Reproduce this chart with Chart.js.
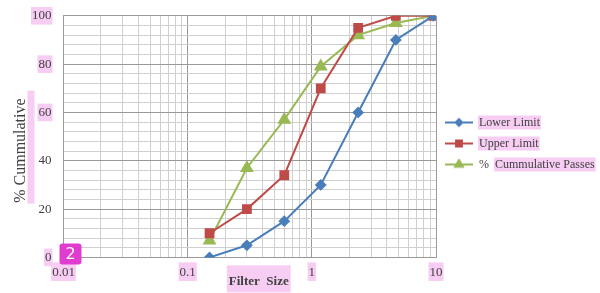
<!DOCTYPE html>
<html>
<head>
<meta charset="utf-8">
<script src="https://cdn.jsdelivr.net/npm/chart.js@4/dist/chart.umd.min.js"></script>
<style>
  html, body { margin: 0; padding: 0; background: #fff; }
  #wrap { width: 600px; height: 293px; }
</style>
</head>
<body>
<div id="wrap"><canvas id="chart" width="600" height="293"></canvas></div>
<script>
// ── Data ────────────────────────────────────────────────────
const filterSizes  = [0.15, 0.3, 0.6, 1.18, 2.36, 4.75, 9.5];
const lowerLimit   = [0, 5, 15, 30, 60, 90, 100];
const upperLimit   = [10, 20, 34, 70, 95, 100, 100];
const cumPasses    = [7, 37, 57, 79, 92, 97, 100];
const xDecades     = [0.01, 0.1, 1, 10];
const yTickLabels  = [0, 20, 40, 60, 80, 100];
const seriesNames  = ['Lower Limit', 'Upper Limit', '%  Cummulative Passes'];

// ── Look ─────────────────────────────────────────────────────
const SERIF   = "'Liberation Serif', 'Times New Roman', serif";
const TEXT    = '#404040';
const PINK    = '#f8cdf3';
const GRID_MAJOR = '#9a9a9a';
const GRID_MINOR = '#cfcfcf';
const COLORS  = ['#4a7ebb', '#be4b48', '#98b954'];
const STYLES  = ['rectRot', 'rect', 'triangle'];
const RADII   = [4.5, 5.5, 6];
const yPinked = [0, 60, 80, 100];   // tick labels that carry the pink highlight
const LEGEND_W = 160;

const isDecade = v => Math.abs(Math.log10(v) - Math.round(Math.log10(v))) < 1e-9;

// small line+marker icons for the legend
function legendIcon(i) {
    const c = document.createElement('canvas');
    c.width = 28; c.height = 12;
    const g = c.getContext('2d');
    g.strokeStyle = COLORS[i];
    g.fillStyle = COLORS[i];
    g.lineWidth = 2;
    g.beginPath(); g.moveTo(0, 6); g.lineTo(28, 6); g.stroke();
    Chart.helpers.drawPoint(g, { pointStyle: STYLES[i], radius: RADII[i] * 0.75, rotation: 0, borderWidth: 1 }, 14, 6);
    g.fill();
    return c;
}

const seriesData = [lowerLimit, upperLimit, cumPasses];
const datasets = seriesData.map((vals, i) => ({
    label: seriesNames[i],
    data: vals.map((y, k) => ({ x: filterSizes[k], y })),
    borderColor: COLORS[i],
    backgroundColor: COLORS[i],
    pointBackgroundColor: COLORS[i],
    pointBorderColor: COLORS[i],
    pointStyle: STYLES[i],
    pointRadius: RADII[i],
    borderWidth: 2,
    tension: 0
}));

// ── Titles, highlights and the little badge ──────────────────
const X_TITLE = 'Filter  Size';
const Y_TITLE = '% Cummulative';
const decor = {
    id: 'decor',
    // the layout caps a side legend at a quarter of the width; let it be wider
    beforeLayout(chart) {
        const lg = chart.legend;
        if (lg && !lg._wide) {
            const orig = lg.update.bind(lg);
            lg.update = (w, h, m) => orig(LEGEND_W, h, m);
            lg._wide = true;
        }
    },
    beforeDraw(chart) {
        const { ctx, chartArea: a, legend } = chart;
        const midX = (a.left + a.right) / 2, midY = (a.top + a.bottom) / 2;
        ctx.save();
        ctx.fillStyle = PINK;
        ctx.font = 'bold 13px ' + SERIF;
        const w = ctx.measureText(X_TITLE).width;
        ctx.fillRect(midX + 9 - w / 2 - 2, a.bottom + 8, w + 4, 27);
        ctx.fillRect(a.left - 36, midY + 10 - 56, 7, 113);

        ctx.font = '12px ' + SERIF;
        legend.legendHitBoxes.forEach((hb, i) => {
            const name = seriesNames[i];
            let tx = hb.left + 28 + 6;
            let txt = name;
            if (name.startsWith('%')) {
                tx += ctx.measureText('%  ').width;
                txt = name.slice(3);
            }
            ctx.fillRect(tx - 1, hb.top - 1, ctx.measureText(txt).width + 2, hb.height + 2);
        });
        ctx.restore();
    },
    afterDraw(chart) {
        const { ctx, chartArea: a } = chart;
        const midX = (a.left + a.right) / 2, midY = (a.top + a.bottom) / 2;
        ctx.save();
        ctx.fillStyle = TEXT;
        ctx.textAlign = 'center';
        ctx.textBaseline = 'middle';
        ctx.font = 'bold 13px ' + SERIF;
        ctx.fillText(X_TITLE, midX + 9, a.bottom + 24);

        ctx.translate(a.left - 43, midY + 14);
        ctx.rotate(-Math.PI / 2);
        ctx.font = '16px ' + SERIF;
        ctx.fillText(Y_TITLE, 0, 0);
        ctx.restore();

        // magenta "2" badge
        ctx.save();
        ctx.fillStyle = '#e03ccf';
        ctx.beginPath();
        ctx.roundRect(a.left - 4, a.bottom - 14, 22, 21, 3);
        ctx.fill();
        ctx.fillStyle = '#fff';
        ctx.font = "16px 'DejaVu Sans', sans-serif";
        ctx.textAlign = 'center';
        ctx.textBaseline = 'middle';
        ctx.fillText('2', a.left + 7, a.bottom - 3);
        ctx.restore();
    }
};

// ── Chart ────────────────────────────────────────────────────
new Chart(document.getElementById('chart'), {
    type: 'line',
    data: { datasets },
    plugins: [decor],
    options: {
        responsive: false,
        devicePixelRatio: 1,
        animation: false,
        layout: { padding: { left: 24, top: 0, bottom: 6, right: 4 } },
        plugins: {
            tooltip: { enabled: false },
            legend: {
                position: 'right',
                labels: {
                    color: TEXT,
                    font: { family: SERIF, size: 12 },
                    usePointStyle: true,
                    pointStyleWidth: 28,
                    padding: 9,
                    generateLabels: chart => {
                        const items = Chart.defaults.plugins.legend.labels.generateLabels(chart);
                        items.forEach((it, i) => { it.pointStyle = legendIcon(i); });
                        return items;
                    }
                }
            }
        },
        scales: {
            x: {
                type: 'logarithmic',
                min: xDecades[0],
                max: xDecades[xDecades.length - 1],
                afterBuildTicks: scale => {
                    const t = [];
                    xDecades.forEach((d, k) => {
                        const top = k === xDecades.length - 1 ? 1 : 9;
                        for (let m = 1; m <= top; m++) t.push({ value: m * d });
                    });
                    scale.ticks = t;
                },
                grid: {
                    drawTicks: false,
                    color: c => (c.tick && isDecade(c.tick.value)) ? GRID_MAJOR : GRID_MINOR
                },
                border: { color: GRID_MAJOR },
                ticks: {
                    autoSkip: false,
                    maxRotation: 0,
                    padding: 7,
                    color: TEXT,
                    font: { family: SERIF, size: 13 },
                    callback: v => isDecade(v) ? String(xDecades.find(d => Math.abs(d - v) < 1e-9)) : '',
                    showLabelBackdrop: c => c.tick && isDecade(c.tick.value),
                    backdropColor: PINK,
                    backdropPadding: { left: 1, right: 1, top: 2, bottom: 1 }
                }
            },
            y: {
                min: yTickLabels[0],
                max: yTickLabels[yTickLabels.length - 1],
                grid: {
                    drawTicks: true,
                    tickLength: 4,
                    tickColor: 'rgba(0,0,0,0)',
                    color: c => (c.tick && yTickLabels.includes(c.tick.value)) ? GRID_MAJOR : GRID_MINOR
                },
                border: { color: GRID_MAJOR },
                ticks: {
                    stepSize: 4,
                    autoSkip: false,
                    padding: 8,
                    color: TEXT,
                    font: { family: SERIF, size: 13 },
                    callback: v => yTickLabels.includes(v) ? String(v) : '',
                    showLabelBackdrop: c => c.tick && yPinked.includes(c.tick.value),
                    backdropColor: PINK,
                    backdropPadding: { left: 1, right: 1, top: 1, bottom: 1 }
                }
            }
        }
    }
});
</script>
</body>
</html>
